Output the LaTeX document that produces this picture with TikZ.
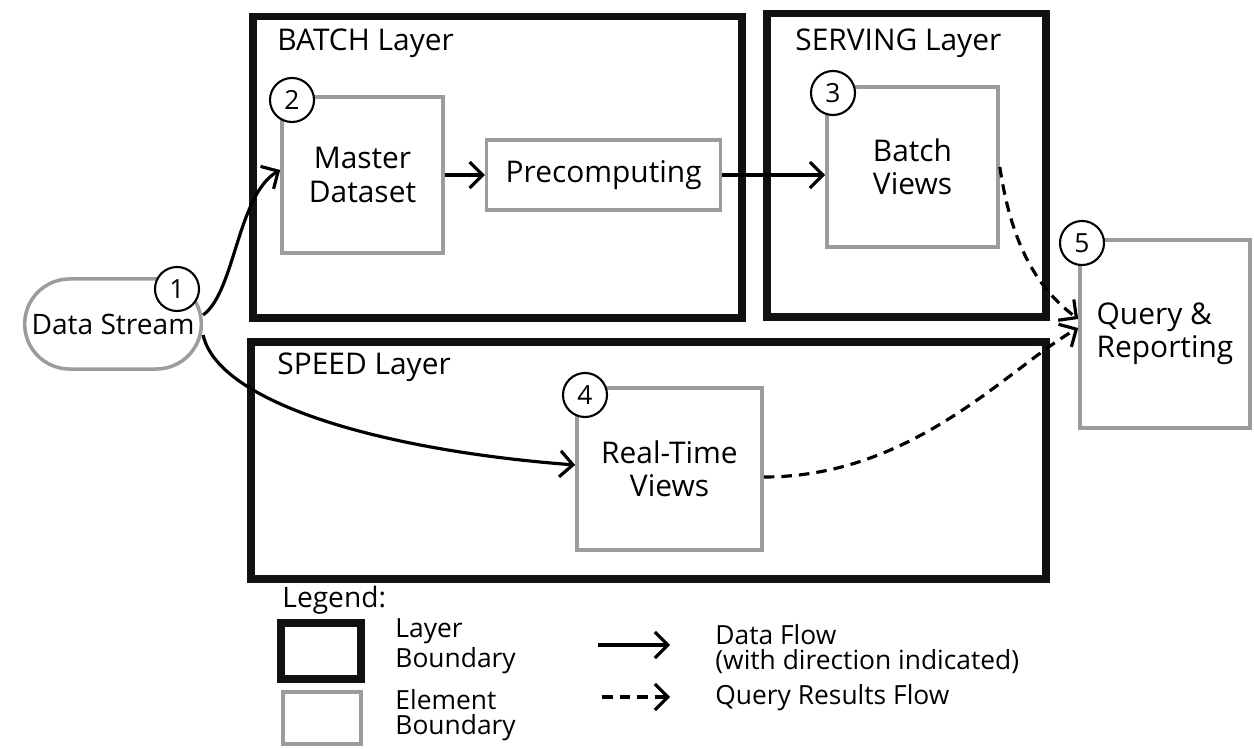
\documentclass[tikz,border=0pt]{standalone}
\usepackage{fontspec}
\setmainfont{Open Sans}
\usetikzlibrary{arrows.meta, positioning, shapes.misc}
\definecolor{layerblack}{HTML}{111111}
\definecolor{elemgray}{HTML}{9C9C9C}

\begin{document}
\begin{tikzpicture}[
    x=0.01cm, y=-0.01cm,
    node distance=0.4cm,
    layer/.style={rectangle, draw=layerblack, line width=0.075cm, anchor=north west},
    elem/.style={rectangle, draw=elemgray, line width=0.035cm, fill=white,
                 align=center, font=\fontsize{8.5}{9.5}\selectfont},
    num/.style={circle, draw=black, line width=0.6pt, fill=white,
                minimum size=0.44cm, inner sep=0pt, font=\fontsize{7.5}{8}\selectfont},
    layerlabel/.style={anchor=west, font=\fontsize{8.5}{9}\selectfont},
    legendtxt/.style={anchor=west, align=left, font=\fontsize{7.5}{7.2}\selectfont},
    flow/.style={-{Straight Barb[length=1.3mm, width=2.6mm]}, line width=0.9pt},
    query/.style={flow, dash pattern=on 3pt off 2pt}
  ]
    \useasboundingbox (0,0) rectangle (1254,749);

    % layers
    \node[layer, minimum width=4.89cm, minimum height=3.01cm] (batch) at (249,13) {};
    \node[layer, minimum width=2.79cm, minimum height=3.03cm] (serving) at (763,10) {};
    \node[layer, minimum width=7.95cm, minimum height=2.37cm] (speed) at (247,338) {};
    \node[layerlabel] (batchlbl) at (265,43) {BATCH Layer};
    \node[layerlabel] (servinglbl) at (783,43) {SERVING Layer};
    \node[layerlabel] (speedlbl) at (265,367) {SPEED Layer};

    % elements
    \node[elem, rounded rectangle, minimum width=2.0cm, minimum height=0.9cm,
          font=\fontsize{8}{9}\selectfont] (ds) at (113,324) {Data Stream};
    \node[elem, minimum width=1.61cm, minimum height=1.56cm] (master) at (362.5,175) {Master\\Dataset};
    \node[elem, right=of master, minimum width=2.34cm, minimum height=0.70cm] (pre) {Precomputing};
    \node[elem, minimum width=1.71cm, minimum height=1.60cm] (bv) at (912.5,167) {Batch\\Views};
    \node[elem, minimum width=1.85cm, minimum height=1.62cm] (rt) at (669.5,469) {Real-Time\\Views};
    \node[elem, align=left, minimum width=1.70cm, minimum height=1.88cm] (qr) at (1165,334) {Query \&\\Reporting};

    \node[num] (n1) at (177,289) {1};
    \node[num] (n2) at (292,100) {2};
    \node[num] (n3) at (833,93) {3};
    \node[num] (n4) at (585,395) {4};
    \node[num] (n5) at (1082,243) {5};

    % data flow
    \draw[flow] ([yshift=0.09cm]ds.east) .. controls +(32,-23) and +(-43,25) .. ([yshift=0.05cm]master.west);
    \draw[flow] ([yshift=-0.11cm]ds.east) .. controls +(15,67) and +(-197,-15) .. ([yshift=0.04cm]rt.west);
    \draw[flow] (master) -- (pre);
    \draw[flow] (pre.east) -- (bv.west |- pre.east);

    % query results
    \draw[query] (bv.east) .. controls +(12,80) and +(-40,-30) .. ([yshift=0.15cm]qr.west);
    \draw[query] ([yshift=-0.08cm]rt.east) .. controls +(150,0) and +(-70,40) .. ([yshift=0.06cm]qr.west);

    % legend
    \node[anchor=west, font=\fontsize{8}{8}\selectfont] (legendlbl) at (270,600) {Legend:};
    \node[layer, anchor=center, minimum width=0.80cm, minimum height=0.56cm] (lglayer) at (321,651) {};
    \node[elem, minimum width=0.78cm, minimum height=0.52cm] (lgelem) at (322,718) {};
    \node[legendtxt] (lglayertxt) at (383,646) {Layer\\Boundary};
    \node[legendtxt] (lgelemtxt) at (383,715) {Element\\Boundary};
    \coordinate (lgflowa) at (598,645);
    \coordinate (lgflowb) at (670,645);
    \coordinate (lgquerya) at (602,697);
    \coordinate (lgqueryb) at (670,697);
    \draw[flow] (lgflowa) -- (lgflowb);
    \draw[query] (lgquerya) -- (lgqueryb);
    \node[legendtxt] (lgflowtxt) at (703,649) {Data Flow\\(with direction indicated)};
    \node[legendtxt] (lgquerytxt) at (703,698) {Query Results Flow};
\end{tikzpicture}
\end{document}
